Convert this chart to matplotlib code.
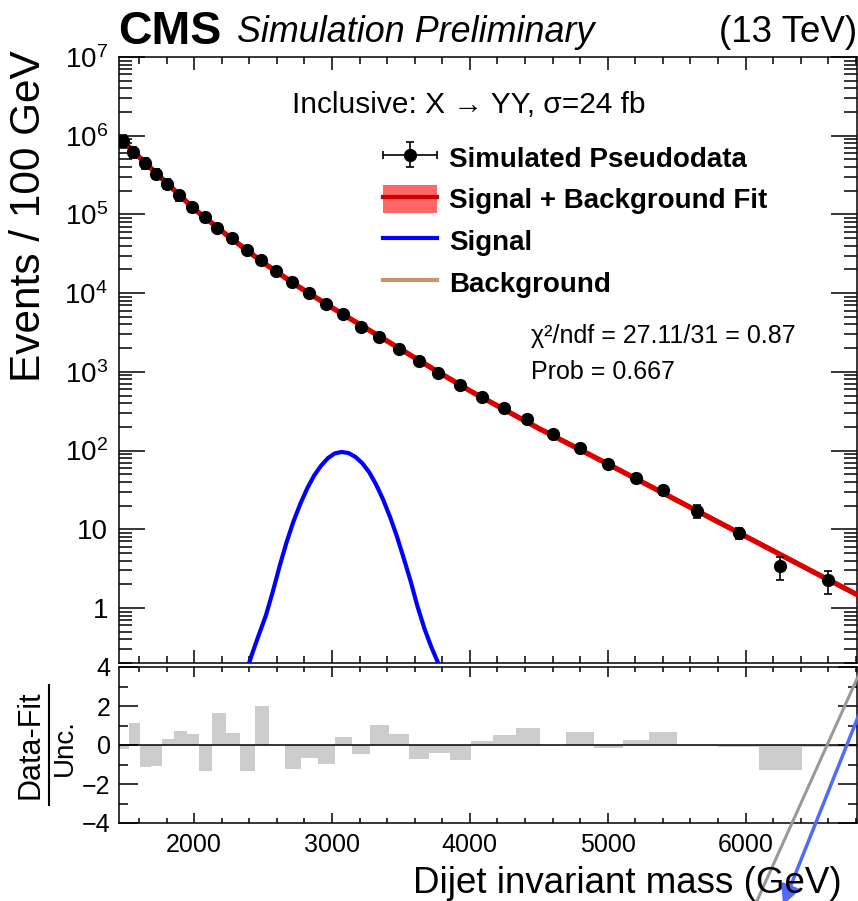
import numpy as np
import matplotlib
matplotlib.use("Agg")
import matplotlib.pyplot as plt
from matplotlib.ticker import FixedLocator, MultipleLocator, LogLocator, FuncFormatter, NullFormatter
from matplotlib.lines import Line2D
from matplotlib.patches import Patch, FancyArrowPatch
from matplotlib.legend_handler import HandlerErrorbar

plt.rcParams['font.family'] = ['Liberation Sans', 'DejaVu Sans']
plt.rcParams['mathtext.fontset'] = 'custom'
plt.rcParams['mathtext.rm'] = 'Liberation Sans'
plt.rcParams['mathtext.it'] = 'Liberation Sans:italic'
plt.rcParams['mathtext.bf'] = 'Liberation Sans:bold'

# bin edges of the ratio histogram (GeV)
edges = [1455, 1530, 1607, 1687, 1770, 1856, 1945, 2037, 2132, 2231, 2332, 2438,
         2546, 2659, 2775, 2895, 3019, 3147, 3279, 3416, 3558, 3704, 3854, 4010,
         4171, 4337, 4509, 4697, 4900, 5108, 5301, 5500, 5802, 6095, 6410, 6808]

# pseudodata points
mass = [1482, 1559, 1644, 1723, 1805, 1892, 1984, 2077, 2168, 2275, 2381, 2487,
        2596, 2708, 2831, 2956, 3082, 3208, 3343, 3488, 3631, 3771, 3928, 4086,
        4247, 4417, 4601, 4799, 5004, 5203, 5399, 5649, 5954, 6249, 6600]
events = [859e3, 617e3, 444e3, 331e3, 247e3, 175e3, 124e3, 91.6e3, 68.2e3, 49.5e3,
          35.2e3, 26.2e3, 19.0e3, 13.7e3, 9930, 7280, 5430, 3750, 2800, 1970, 1390,
          977, 682, 484, 345, 250, 161, 109, 67.8, 45.4, 31.7, 17.3, 8.95, 3.37, 2.24]
errors = [150e3, 100e3, 70e3, 50e3, 37e3, 25e3, 17e3, 12e3, 8e3, 6e3, 3.9e3, 2.6e3,
          1.9e3, 1.3e3, 800, 580, 380, 260, 170, 120, 80, 58, 40, 33, 24, 18, 13,
          10, 7, 5.5, 4.2, 3.2, 1.5, 1.1, 0.75]

# (data - fit) / unc per bin
pulls = [-0.2, 1.15, -1.15, -1.1, 0.32, 0.72, 0.57, -1.35, 1.65, 0.64, -1.35, 2.02,
         0.0, -1.21, -0.66, -0.97, 0.40, -0.47, 1.01, 0.57, -0.71, -0.40, -0.77, 0.22,
         0.52, 0.85, 0.0, 0.66, -0.15, 0.28, 0.66, -0.05, -0.12, -1.3, -0.12]

# signal + background fit curve
fit_mass = [1455, 1600, 1800, 2000, 2250, 2500, 2750, 3000, 3250, 3500, 3750, 4000,
            4500, 5000, 5500, 6000, 6500, 6808]
fit_vals = [955e3, 537e3, 251e3, 117.5e3, 52.5e3, 24.5e3, 12.3e3, 6530, 3550, 1930,
            1047, 575, 191, 67.6, 23.4, 8.13, 2.82, 1.48]

# signal shape
sig_mass = [2370, 2420, 2470, 2520, 2570, 2620, 2670, 2720, 2770, 2820, 2870, 2920,
            2970, 3020, 3070, 3120, 3170, 3220, 3270, 3320, 3370, 3420, 3470, 3520,
            3570, 3620, 3670, 3720, 3770, 3820]
sig_vals = [0.14, 0.26, 0.46, 0.8, 1.6, 3.4, 6.8, 12.5, 21, 33, 48, 64, 80, 92, 96,
            93, 83, 69, 53, 37, 24, 14.5, 8.2, 4.3, 2.2, 1.05, 0.55, 0.32, 0.2, 0.12]

W, H = 858, 901
fig = plt.figure(figsize=(W / 100, H / 100), dpi=100)

def fx(px):
    return px / W

def fy(py):
    return 1 - py / H

ax = fig.add_axes([fx(119), fy(663), fx(857) - fx(119), fy(57) - fy(663)])
axr = fig.add_axes([fx(119), fy(823), fx(857) - fx(119), fy(667) - fy(823)])

# main panel
ax.plot(fit_mass, fit_vals, color='#c8966a', lw=3, zorder=2)
ax.plot(fit_mass, fit_vals, color='#dd0000', lw=3.8, zorder=3)
ax.plot(sig_mass, sig_vals, color='#0000ff', lw=3, zorder=3)
ax.errorbar(mass, events, yerr=errors, fmt='o', color='black', ms=8.5,
            elinewidth=1.2, capsize=3.2, capthick=1.2, zorder=4)

ax.set_yscale('log')
ax.set_xlim(1455, 6808)
ax.set_ylim(0.2, 1e7)

def ylab(v, pos):
    # only label the decades inside the visible range
    if v < 0.5 or v > 2e7:
        return ''
    if v < 1.5:
        return '1'
    if v < 15:
        return '10'
    return r'$10^{%d}$' % int(round(np.log10(v)))

ax.yaxis.set_major_locator(LogLocator(base=10, numticks=20))
ax.yaxis.set_minor_locator(LogLocator(base=10, subs=np.arange(2, 10), numticks=20))
ax.yaxis.set_major_formatter(FuncFormatter(ylab))
ax.yaxis.set_minor_formatter(NullFormatter())
ax.xaxis.set_major_locator(MultipleLocator(1000))
ax.xaxis.set_minor_locator(MultipleLocator(200))
ax.tick_params(axis='x', which='both', direction='in', top=True, bottom=True,
               labelbottom=False, width=1.1)
ax.tick_params(axis='x', which='major', length=9.5)
ax.tick_params(axis='x', which='minor', length=5)
ax.tick_params(axis='y', which='both', direction='in', left=True, right=True,
               width=1.1, labelsize=20, pad=8)
ax.tick_params(axis='y', which='major', length=19)
ax.tick_params(axis='y', which='minor', length=9.5)
for s in ax.spines.values():
    s.set_linewidth(1.1)

# ratio panel
widths = np.diff(edges)
axr.bar(edges[:-1], pulls, width=widths, align='edge', color='#cccccc',
        edgecolor='none', zorder=1)
axr.axhline(0, color='black', lw=1.1, zorder=2)
axr.set_xlim(1455, 6808)
axr.set_ylim(-4, 4)
axr.yaxis.set_major_locator(FixedLocator([-4, -2, 0, 2, 4]))
axr.yaxis.set_minor_locator(FixedLocator([-3, -1, 1, 3]))
axr.xaxis.set_major_locator(MultipleLocator(1000))
axr.xaxis.set_minor_locator(MultipleLocator(200))
axr.tick_params(axis='both', which='both', direction='in', top=True, right=True,
                width=1.1)
axr.tick_params(axis='x', which='major', length=7, pad=7, labelsize=18)
axr.tick_params(axis='x', which='minor', length=3.6)
axr.tick_params(axis='y', which='major', length=13.5, pad=6, labelsize=18)
axr.tick_params(axis='y', which='minor', length=6.5)
for s in axr.spines.values():
    s.set_linewidth(1.1)

# labels
fig.text(fx(118), fy(44), 'CMS', fontsize=33.5, fontweight='bold', va='baseline')
fig.text(fx(237), fy(42), 'Simulation Preliminary', fontsize=25.8, style='italic', va='baseline')
fig.text(fx(857), fy(42), '(13 TeV)', fontsize=26.5, ha='right', va='baseline')
fig.text(fx(292), fy(113), 'Inclusive: X \u2192 YY, \u03c3=24 fb', fontsize=21.5, va='baseline')
fig.text(fx(531), fy(343), '\u03c7\u00b2/ndf = 27.11/31 = 0.87', fontsize=18, va='baseline')
fig.text(fx(531), fy(379), 'Prob = 0.667', fontsize=18, va='baseline')
fig.text(fx(29), fy(50), 'Events / 100 GeV', fontsize=30.5, rotation=90, ha='center', va='top')
fig.text(fx(842), fy(893), 'Dijet invariant mass (GeV)', fontsize=26.5, ha='right', va='baseline')
fig.text(fx(31), fy(745), 'Data-Fit', fontsize=22, rotation=90, ha='center', va='center')
fig.text(fx(65), fy(748), 'Unc.', fontsize=20, rotation=90, ha='center', va='center')
fig.add_artist(Line2D([fx(49), fx(49)], [fy(685), fy(805)], color='black', lw=1.5,
                      transform=fig.transFigure))

# legend
h_data = ax.errorbar([np.nan], [np.nan], xerr=[1], yerr=[1], fmt='o', color='black',
                     ms=8.5, elinewidth=1.2, capsize=3.2, capthick=1.2)
h_fit = (Patch(facecolor='#ff6666', edgecolor='none'), Line2D([], [], color='#cc0000', lw=3))
h_sig = Line2D([], [], color='#0000ff', lw=3)
h_bkg = Line2D([], [], color='#c8966a', lw=3)
leg = ax.legend([h_data, h_fit, h_sig, h_bkg],
                ['Simulated Pseudodata', 'Signal + Background Fit', 'Signal', 'Background'],
                loc='upper left', bbox_to_anchor=(fx(383), fy(143)),
                bbox_transform=fig.transFigure, frameon=False, borderpad=0,
                borderaxespad=0, handlelength=1.94, handleheight=1.2, handletextpad=0.43,
                labelspacing=0.44, prop={'size': 20, 'weight': 'bold'},
                handler_map={h_data: HandlerErrorbar(xerr_size=0.97, yerr_size=0.45)})

# overlay annotation strokes
fig.add_artist(Line2D([fx(860), fx(756)], [fy(672), fy(903)], color='#999999', lw=2.2,
                      transform=fig.transFigure))
fig.add_artist(FancyArrowPatch((fx(860), fy(712)), (fx(783), fy(905)),
                               transform=fig.transFigure, arrowstyle='-|>',
                               mutation_scale=28, color='#4f6bff', lw=2.5,
                               shrinkA=0, shrinkB=0))

fig.savefig('out.png', dpi=100)
